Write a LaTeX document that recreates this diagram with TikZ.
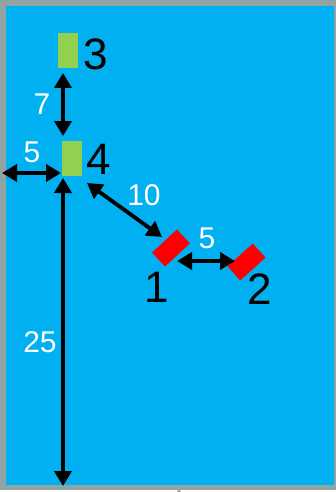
\documentclass[tikz,border=0pt]{standalone}
\usepackage{fontspec}
\setmainfont{Liberation Sans}
\usetikzlibrary{arrows.meta}
\definecolor{bgblue}{HTML}{00B0F0}
\definecolor{frame}{HTML}{90A4A4}
\definecolor{grn}{HTML}{92D050}
\tikzset{
  dim/.style={line width=3.8pt,{Triangle[length=15pt,width=17pt]}-{Triangle[length=15pt,width=17pt]}},
  gbox/.style={fill=grn,draw=none,minimum width=20pt,minimum height=35pt,inner sep=0pt},
  rbox/.style={fill=red,draw=none,minimum width=34pt,minimum height=19pt,inner sep=0pt},
  big/.style={font=\fontsize{44}{44}\selectfont,text=black,inner sep=0pt},
  num/.style={font=\fontsize{30}{30}\selectfont,text=white,inner sep=0pt}
}
\begin{document}
\begin{tikzpicture}[x=1pt,y=-1pt]
\useasboundingbox (0,0) rectangle (336,492);
\fill[white] (0,0) rectangle (336,492);
\fill[frame] (0,0) rectangle (336,490);
\fill[bgblue] (6,6) rectangle (334,485);
\fill[frame] (177,492) -- (179,489) -- (181,492) -- cycle;
% boxes
\node[gbox] (r3) at (68,50.5) {};
\node[gbox] (r4) at (72,158) {};
\node[rbox,rotate=43] (r1) at (171,248) {};
\node[rbox,rotate=42] (r2) at (246.5,262) {};
% labels
\node[big] (l3) at (96,54) {3};
\node[big] (l4) at (99,159) {4};
\node[big] (l1) at (157,287) {1};
\node[big] (l2) at (260,289) {2};
% endpoints
\coordinate (a7s) at (63,73);
\coordinate (a7e) at (63,136);
\coordinate (a5s) at (2,173);
\coordinate (a5e) at (61,173);
\coordinate (a25s) at (63,178);
\coordinate (a25e) at (63,486);
\coordinate (a10s) at (87,183);
\coordinate (a10e) at (162,237);
\coordinate (b5s) at (177,261);
\coordinate (b5e) at (235,261);
\draw[dim] (a7s) -- (a7e);
\draw[dim] (a5s) -- (a5e);
\draw[dim] (a25s) -- (a25e);
\draw[dim] (a10s) -- (a10e);
\draw[dim] (b5s) -- (b5e);
% dimension labels
\node[num] (n7) at (42,104) {7};
\node[num] (n5a) at (32,152) {5};
\node[num] (n10) at (144,195) {10};
\node[num] (n25) at (40,342) {25};
\node[num] (n5b) at (207,238) {5};
\end{tikzpicture}
\end{document}
